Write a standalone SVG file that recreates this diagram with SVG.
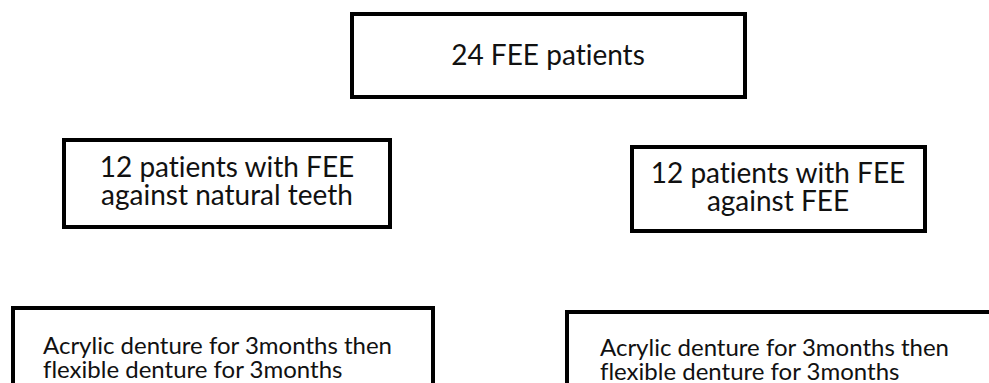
<svg xmlns="http://www.w3.org/2000/svg" width="989" height="383" viewBox="0 0 989 383">
<style>
.box{fill:#fff;stroke:#000;stroke-width:4}
.t{font-family:Lato,"Open Sans",sans-serif;fill:#111;font-variant-ligatures:none;font-feature-settings:"liga" 0}
.m{font-size:28px;text-anchor:middle}
.s{font-size:24px}
</style>
<rect width="989" height="383" fill="#fff"/>
<g id="connectors"></g>
<g id="n1"><rect class="box" x="352" y="14" width="393" height="83"/><text class="t m" x="548" y="65">24 FEE patients</text></g>
<g id="n2"><rect class="box" x="64" y="140" width="326" height="87"/><text class="t m" x="227" y="177">12 patients with FEE</text><text class="t m" x="227" y="205">against natural teeth</text></g>
<g id="n3"><rect class="box" x="632" y="147" width="293" height="84"/><text class="t m" x="778" y="183">12 patients with FEE</text><text class="t m" x="778" y="211">against FEE</text></g>
<g id="n4"><rect class="box" x="13" y="308" width="420" height="100"/><text class="t s" x="43" y="354">Acrylic denture for 3months then</text><text class="t s" x="43" y="378">flexible denture for 3months</text></g>
<g id="n5"><rect class="box" x="567" y="312" width="440" height="100"/><text class="t s" x="600" y="356">Acrylic denture for 3months then</text><text class="t s" x="600" y="380">flexible denture for 3months</text></g>
</svg>
